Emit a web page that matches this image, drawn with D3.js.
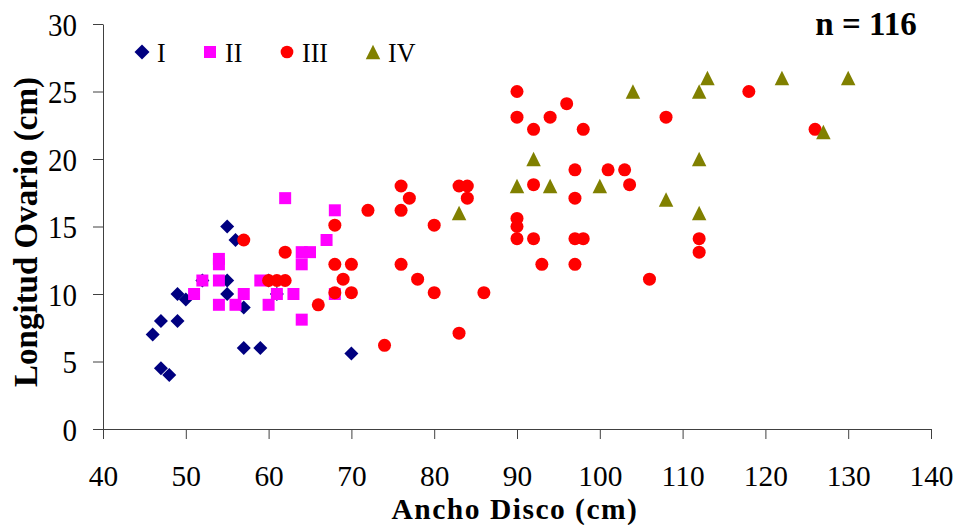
<!DOCTYPE html>
<html>
<head>
<meta charset="utf-8">
<script src="https://cdn.jsdelivr.net/npm/d3@7"></script>
<style>
  html, body { margin: 0; padding: 0; background: #fff; }
  svg { display: block; }
</style>
</head>
<body>
<svg id="chart" width="958" height="525"></svg>
<script>
// ---- Data ----
const xTicks = [40, 50, 60, 70, 80, 90, 100, 110, 120, 130, 140];
const yTicks = [0, 5, 10, 15, 20, 25, 30];
const seriesNames = ["I", "II", "III", "IV"];

const anchoI = [46, 47, 47, 48, 49, 49, 50, 52, 55, 56, 55, 55, 57, 57, 59, 60, 61, 70];
const longI  = [7, 8, 4.5, 4, 10, 8, 9.6, 11, 15, 14, 11, 10, 9, 6, 6, 11, 10, 5.6];

const anchoII = [51, 52, 54, 54, 54, 54, 56, 57, 59, 60, 61, 62, 63, 64, 65, 64, 64, 67, 68, 68];
const longII  = [10, 11, 12.6, 12.2, 11, 9.2, 9.2, 10, 11, 9.2, 10, 17.1, 10, 13.1, 13.1, 12.2, 8.1, 14, 16.2, 10];

const anchoIII = [57, 60, 61, 62, 62, 68, 68, 70, 69, 68, 70, 66,
                  72, 76, 77, 76, 80, 83, 84, 84, 76, 78, 80, 86, 83, 74,
                  90, 90, 92, 94, 96, 98, 108, 97, 101, 103, 92, 103.6, 97, 90, 90, 90, 92, 97, 98, 93, 97, 106,
                  118, 126, 112, 112];
const longIII  = [14, 11, 11, 11, 13.1, 15.1, 12.2, 12.2, 11.1, 10.1, 10.1, 9.2,
                  16.2, 18, 17.1, 16.2, 15.1, 18, 18, 17.1, 12.2, 11.1, 10.1, 10.1, 7.1, 6.2,
                  25, 23.1, 22.2, 23.1, 24.1, 22.2, 23.1, 19.2, 19.2, 19.2, 18.1, 18.1, 17.1, 15.6, 15.0, 14.1, 14.1, 14.1, 14.1, 12.2, 12.2, 11.1,
                  25, 22.2, 14.1, 13.1];

const anchoIV = [83, 90, 92, 94, 100, 104, 108, 112, 113, 112, 112, 122, 127, 130];
const longIV  = [16, 18, 20, 18, 18, 25, 17, 25, 26, 20, 16, 26, 22, 26];

const sampleLabel = "n = 116";
const xTitle = "Ancho Disco (cm)";
const yTitle = "Longitud Ovario (cm)";

// ---- Setup ----
const svg = d3.select("#chart");
const x = d3.scaleLinear().domain([40, 140]).range([103, 931]);
const y = d3.scaleLinear().domain([0, 30]).range([429, 24]);

const serif = "'Liberation Serif', 'Times New Roman', Times, serif";
const axisColor = "#404040";

// custom symbols
const diamondType = {
  draw(ctx, size) {
    const r = Math.sqrt(size) / 2;
    ctx.moveTo(0, -r); ctx.lineTo(r, 0); ctx.lineTo(0, r); ctx.lineTo(-r, 0); ctx.closePath();
  }
};
const triangleType = {
  draw(ctx, size) {
    const w = Math.sqrt(size);
    ctx.moveTo(0, -w / 2); ctx.lineTo(w / 2, w / 2); ctx.lineTo(-w / 2, w / 2); ctx.closePath();
  }
};

const styles = [
  { type: diamondType, size: 14 * 14, color: "#000080" },
  { type: d3.symbolSquare, size: 144, color: "#FF00FF" },
  { type: d3.symbolCircle, size: 133, color: "#FF0000" },
  { type: triangleType, size: 14.5 * 14.5, color: "#808000" }
];

const series = [
  { xs: anchoI, ys: longI },
  { xs: anchoII, ys: longII },
  { xs: anchoIII, ys: longIII },
  { xs: anchoIV, ys: longIV }
];

// ---- Axes ----
const xAxis = svg.append("g")
  .attr("transform", `translate(0,${y(0)})`)
  .call(d3.axisBottom(x).tickValues(xTicks).tickSize(10).tickSizeOuter(0));
xAxis.select(".domain").attr("stroke", axisColor);
xAxis.selectAll(".tick line").attr("stroke", axisColor);
xAxis.selectAll(".tick text")
  .attr("font-family", serif).attr("font-size", 28).attr("fill", "#000")
  .attr("y", 0).attr("dy", 0)
  .attr("transform", "translate(0,57) scale(1.05,1.08)");

const yAxis = svg.append("g")
  .attr("transform", `translate(${x(40)},0)`)
  .call(d3.axisLeft(y).tickValues(yTicks).tickSize(10).tickSizeOuter(0));
yAxis.select(".domain").attr("stroke", axisColor);
yAxis.selectAll(".tick line").attr("stroke", axisColor);
yAxis.selectAll(".tick text")
  .attr("font-family", serif).attr("font-size", 29).attr("fill", "#000")
  .attr("x", 0).attr("dy", 0)
  .attr("transform", "translate(-26,11) scale(1,1.1)");

// ---- Points ----
series.forEach((s, i) => {
  const st = styles[i];
  const sym = d3.symbol().type(st.type).size(st.size);
  svg.append("g").selectAll("path")
    .data(s.xs.map((v, k) => [v, s.ys[k]]))
    .join("path")
    .attr("d", sym)
    .attr("transform", d => `translate(${x(d[0])},${y(d[1])})`)
    .attr("fill", st.color);
});

// ---- Legend ----
const legendX = [142, 210, 287, 373];
const legend = svg.append("g");
seriesNames.forEach((name, i) => {
  const st = styles[i];
  legend.append("path")
    .attr("d", d3.symbol().type(st.type).size(i === 0 ? 15 * 15 : (i === 2 ? 127 : st.size))())
    .attr("transform", `translate(${legendX[i]},52)`)
    .attr("fill", st.color);
  legend.append("text")
    .attr("transform", `translate(${legendX[i] + 15},61.5) scale(1,1.08)`)
    .attr("font-family", serif)
    .attr("font-size", 26)
    .attr("fill", "#000")
    .text(name);
});

// ---- Annotation ----
svg.append("text")
  .attr("x", 866).attr("y", 35)
  .attr("text-anchor", "middle")
  .attr("font-family", serif).attr("font-weight", "bold").attr("font-size", 33)
  .text(sampleLabel);

// ---- Titles ----
svg.append("text")
  .attr("x", 515).attr("y", 518.5)
  .attr("text-anchor", "middle")
  .attr("font-family", serif).attr("font-weight", "bold").attr("font-size", 29.5)
  .attr("letter-spacing", 1.5)
  .text(xTitle);

svg.append("text")
  .attr("transform", "translate(37,232) rotate(-90)")
  .attr("text-anchor", "middle")
  .attr("font-family", serif).attr("font-weight", "bold").attr("font-size", 33)
  .text(yTitle);
</script>
</body>
</html>
